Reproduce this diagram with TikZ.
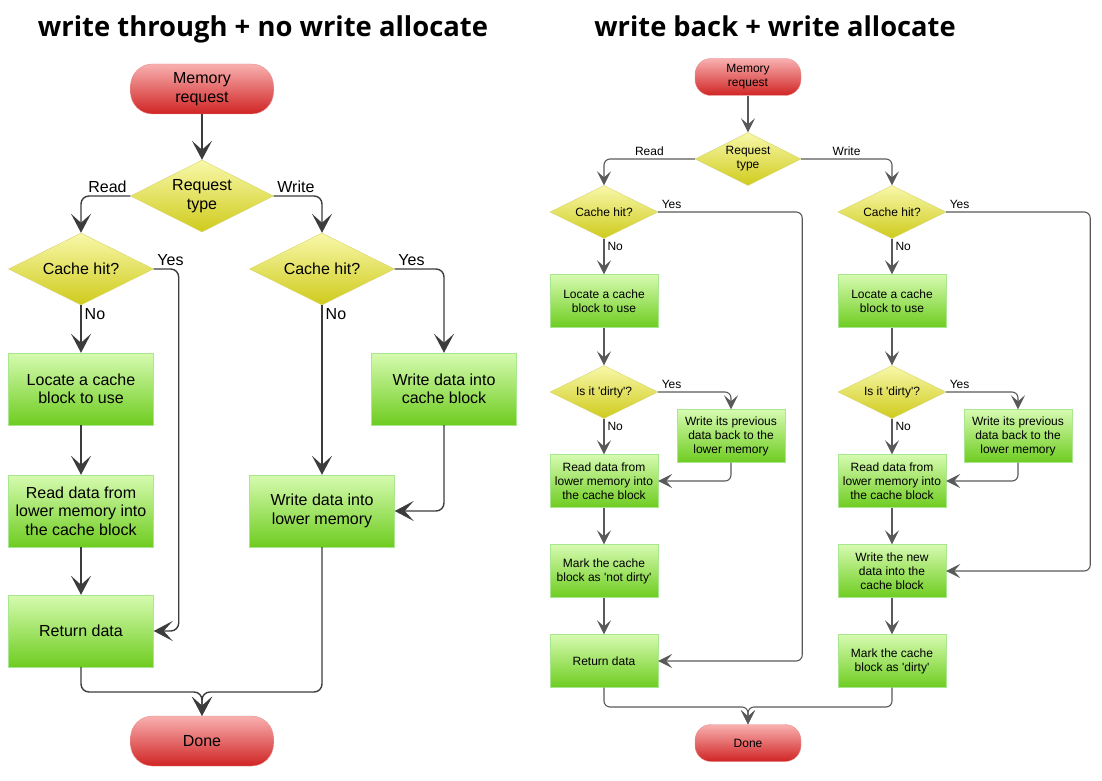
\documentclass[tikz,border=0pt]{standalone}
\usepackage{fontspec}
\setmainfont{Liberation Sans}
\newfontfamily\titlefont{Open Sans}
\usetikzlibrary{shapes.geometric, arrows.meta}

\definecolor{termtop}{HTML}{F9B0B0}
\definecolor{termbot}{HTML}{D02424}
\definecolor{termdraw}{HTML}{E89090}
\definecolor{dectop}{HTML}{F8F8AA}
\definecolor{decbot}{HTML}{CFCB1C}
\definecolor{decdraw}{HTML}{D8D46E}
\definecolor{proctop}{HTML}{D6FBB0}
\definecolor{procbot}{HTML}{6ECC20}
\definecolor{procdraw}{HTML}{A8E690}
\definecolor{linegray}{HTML}{3C3C3C}

\tikzstyle{term} = [rectangle, draw=termdraw, top color=termtop, bottom color=termbot, align=center, inner sep=0pt]
\tikzstyle{decision} = [diamond, aspect=2, draw=decdraw, top color=dectop, bottom color=decbot, align=center, inner sep=0pt]
\tikzstyle{process} = [rectangle, draw=procdraw, top color=proctop, bottom color=procbot, align=center, inner sep=0pt]
\tikzstyle{bigarrow} = [line width=1.4pt, draw=linegray, rounded corners=8pt, -{Stealth[length=19pt, width=20pt, inset=9pt]}]
\tikzstyle{smallarrow} = [line width=1.1pt, draw=linegray!85, rounded corners=6pt, -{Stealth[length=14pt, width=14pt, inset=6pt]}]
\tikzstyle{lbl} = [inner sep=3pt]

\begin{document}
\begin{tikzpicture}[x=1pt, y=-1pt]

        \useasboundingbox (0,0) rectangle (1102,781);

        % write through + no write allocate
        \node (TITLEL) [anchor=base] at (263,37) {\titlefont\bfseries\fontsize{27.4pt}{32pt}\selectfont write through + no write allocate};

        \begin{scope}[font=\fontsize{16pt}{18.5pt}\selectfont,
                term/.append style={minimum width=143pt, minimum height=50pt, rounded corners=22pt},
                decision/.append style={minimum width=145pt, minimum height=72pt},
                process/.append style={minimum width=145pt, minimum height=72pt}]

        \node (MRL) [term] at (202,89) {Memory\\request};
        \node (RTL) [decision, minimum width=143pt] at (202,196) {Request\\type};
        \node (CHLR) [decision] at (81,269) {Cache hit?};
        \node (CHLW) [decision] at (322,269) {Cache hit?};
        \node (LCL) [process] at (81,389) {Locate a cache\\block to use};
        \node (RDL) [process] at (81,511) {Read data from\\lower memory into\\the cache block};
        \node (RETL) [process] at (81,631) {Return data};
        \node (WCL) [process] at (444,389) {Write data into\\cache block};
        \node (WML) [process] at (322,511) {Write data into\\lower memory};
        \node (DONEL) [term] at (202,741) {Done};

        \coordinate (ML) at (202,692);

        \draw [bigarrow] (MRL) -- (RTL);
        \draw [bigarrow] (RTL.west) node[lbl, anchor=south east] {Read} -| (CHLR.north);
        \draw [bigarrow] (RTL.east) node[lbl, anchor=south west] {Write} -| (CHLW.north);

        \draw [bigarrow] (CHLR.east) node[lbl, anchor=south west] {Yes} -- ++(25,0) |- (RETL.east);
        \draw [bigarrow] (CHLR.south) node[lbl, anchor=north west] {No} -- (LCL);
        \draw [bigarrow] (LCL) -- (RDL);
        \draw [bigarrow] (RDL) -- (RETL);

        \draw [bigarrow] (CHLW.east) node[lbl, anchor=south west] {Yes} -| (WCL.north);
        \draw [bigarrow] (CHLW.south) node[lbl, anchor=north west] {No} -- (WML);
        \draw [bigarrow] (WCL.south) |- (WML.east);

        \draw [bigarrow] (RETL.south) |- (ML) -- (DONEL.north);
        \draw [bigarrow] (WML.south) |- (ML) -- (DONEL.north);
        \end{scope}

        % write back + write allocate
        \node (TITLER) [anchor=base] at (775,37) {\titlefont\bfseries\fontsize{27.3pt}{32pt}\selectfont write back + write allocate};

        \begin{scope}[font=\fontsize{12pt}{14pt}\selectfont,
                term/.append style={minimum width=106pt, minimum height=37pt, rounded corners=16pt},
                decision/.append style={minimum width=108pt, minimum height=53pt},
                process/.append style={minimum width=108pt, minimum height=53pt}]

        \node (MRR) [term] at (748,77) {Memory\\request};
        \node (RTR) [decision, minimum width=106pt] at (748,159) {Request\\type};

        \node (CHRR) [decision] at (604,212) {Cache hit?};
        \node (LCRR) [process] at (604,301) {Locate a cache\\block to use};
        \node (DRR) [decision] at (604,392) {Is it \textquotesingle dirty\textquotesingle?};
        \node (WPR) [process] at (731,436) {Write its previous\\data back to the\\lower memory};
        \node (RDRR) [process] at (604,481) {Read data from\\lower memory into\\the cache block};
        \node (MNDR) [process] at (604,571) {Mark the cache\\block as \textquotesingle not dirty\textquotesingle};
        \node (RETR) [process] at (604,661) {Return data};

        \node (CHRW) [decision] at (892,212) {Cache hit?};
        \node (LCRW) [process] at (892,301) {Locate a cache\\block to use};
        \node (DRW) [decision] at (892,392) {Is it \textquotesingle dirty\textquotesingle?};
        \node (WPW) [process] at (1018,436) {Write its previous\\data back to the\\lower memory};
        \node (RDRW) [process] at (892,481) {Read data from\\lower memory into\\the cache block};
        \node (WNR) [process] at (892,571) {Write the new\\data into the\\cache block};
        \node (MDR) [process] at (892,661) {Mark the cache\\block as \textquotesingle dirty\textquotesingle};

        \node (DONER) [term] at (748,743) {Done};

        \coordinate (MR) at (748,707);

        \draw [smallarrow] (MRR) -- (RTR);
        \draw [smallarrow] (RTR.west) -| node[pos=0.25, above, inner sep=3pt] {Read} (CHRR.north);
        \draw [smallarrow] (RTR.east) -| node[pos=0.25, above, inner sep=3pt] {Write} (CHRW.north);

        \draw [smallarrow] (CHRR.east) node[lbl, anchor=south west] {Yes} -- ++(144,0) |- (RETR.east);
        \draw [smallarrow] (CHRR.south) node[lbl, anchor=north west] {No} -- (LCRR);
        \draw [smallarrow] (LCRR) -- (DRR);
        \draw [smallarrow] (DRR.east) node[lbl, anchor=south west] {Yes} -| (WPR.north);
        \draw [smallarrow] (DRR.south) node[lbl, anchor=north west] {No} -- (RDRR);
        \draw [smallarrow] (WPR.south) |- (RDRR.east);
        \draw [smallarrow] (RDRR) -- (MNDR);
        \draw [smallarrow] (MNDR) -- (RETR);

        \draw [smallarrow] (CHRW.east) node[lbl, anchor=south west] {Yes} -- ++(144,0) |- (WNR.east);
        \draw [smallarrow] (CHRW.south) node[lbl, anchor=north west] {No} -- (LCRW);
        \draw [smallarrow] (LCRW) -- (DRW);
        \draw [smallarrow] (DRW.east) node[lbl, anchor=south west] {Yes} -| (WPW.north);
        \draw [smallarrow] (DRW.south) node[lbl, anchor=north west] {No} -- (RDRW);
        \draw [smallarrow] (WPW.south) |- (RDRW.east);
        \draw [smallarrow] (RDRW) -- (WNR);
        \draw [smallarrow] (WNR) -- (MDR);

        \draw [smallarrow] (RETR.south) |- (MR) -- (DONER.north);
        \draw [smallarrow] (MDR.south) |- (MR) -- (DONER.north);
        \end{scope}

    \end{tikzpicture}
\end{document}
